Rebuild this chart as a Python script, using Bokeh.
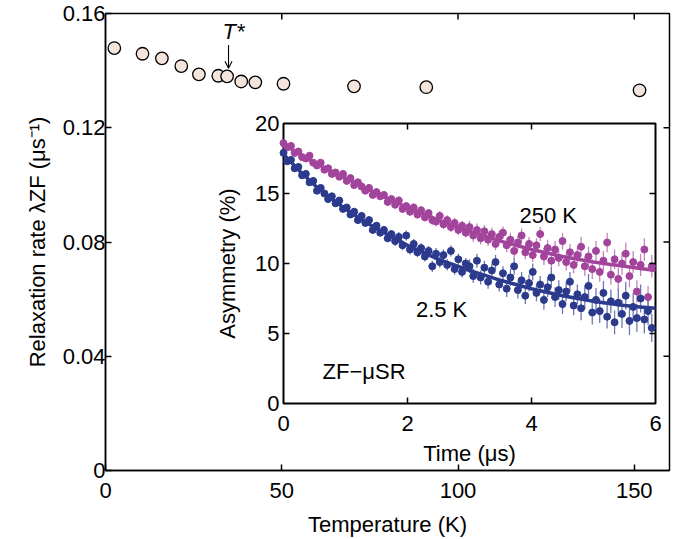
from bokeh.plotting import figure
from bokeh.models import Range1d, Arrow, OpenHead, ColumnDataSource, FixedTicker
from bokeh.core.properties import value
from bokeh.embed import file_html
from bokeh.resources import INLINE

# ---------------- data ----------------
# main panel: zero-field relaxation rate vs temperature
TEMP_K = [2.5, 10.5, 16.0, 21.5, 26.5, 32.0, 34.5, 38.5, 42.5, 50.5, 70.5, 91.0, 151.5]
LAMBDA_ZF = [0.1479, 0.1459, 0.1443, 0.1416, 0.1387, 0.1382, 0.1380, 0.1362, 0.1359,
             0.1354, 0.1345, 0.1342, 0.1331]
X_TICKS = [0, 50, 100, 150]
Y_TICKS = [0, 0.04, 0.08, 0.12, 0.16]
Y_TICK_LABELS = ["0", "0.04", "0.08", "0.12", "0.16"]

# inset: ZF-muSR asymmetry spectra
TIME_US = [0.00, 0.06, 0.12, 0.18, 0.24, 0.30, 0.36, 0.42, 0.48, 0.54,
           0.60, 0.66, 0.72, 0.78, 0.84, 0.90, 0.96, 1.02, 1.08, 1.14,
           1.20, 1.26, 1.32, 1.38, 1.44, 1.50, 1.56, 1.62, 1.68, 1.74,
           1.80, 1.86, 1.92, 1.98, 2.04, 2.10, 2.16, 2.22, 2.28, 2.34,
           2.40, 2.46, 2.52, 2.58, 2.64, 2.70, 2.76, 2.82, 2.88, 2.94,
           3.00, 3.06, 3.12, 3.18, 3.24, 3.30, 3.36, 3.42, 3.48, 3.54,
           3.60, 3.66, 3.72, 3.78, 3.84, 3.90, 3.96, 4.02, 4.08, 4.14,
           4.20, 4.26, 4.32, 4.38, 4.44, 4.50, 4.56, 4.62, 4.68, 4.74,
           4.80, 4.86, 4.92, 4.98, 5.04, 5.10, 5.16, 5.22, 5.28, 5.34,
           5.40, 5.46, 5.52, 5.58, 5.64, 5.70, 5.76, 5.82, 5.88, 5.94]
ASYM_250K = [18.6, 18.3, 18.4, 17.9, 18.0, 17.6, 17.5, 17.7, 17.2, 17.0,
             17.2, 16.7, 16.8, 16.4, 16.5, 16.2, 16.4, 15.9, 16.1, 15.6,
             15.8, 15.5, 15.2, 15.4, 14.9, 15.1, 14.8, 14.9, 14.4, 14.6,
             14.2, 14.5, 13.9, 14.1, 13.7, 14.0, 13.5, 13.8, 13.3, 13.6,
             13.1, 13.0, 13.4, 12.8, 13.1, 12.6, 12.9, 12.4, 12.7, 12.2,
             12.6, 12.0, 12.4, 11.8, 12.3, 11.7, 12.1, 11.4, 11.9, 12.2,
             11.3, 11.7, 10.9, 11.5, 12.0, 10.8, 11.4, 10.6, 11.3, 12.1,
             10.5, 11.1, 10.2, 11.0, 10.4, 11.6, 10.1, 10.8, 9.9, 10.6,
             11.2, 9.8, 10.5, 9.6, 10.9, 9.4, 10.2, 11.5, 9.2, 10.3,
             8.9, 10.0, 10.7, 9.1, 10.1, 8.0, 9.9, 11.0, 7.6, 9.8]
ERR_250K = [0.15, 0.15, 0.15, 0.15, 0.15, 0.15, 0.15, 0.15, 0.15, 0.15,
            0.2, 0.2, 0.2, 0.2, 0.2, 0.2, 0.2, 0.2, 0.2, 0.2,
            0.25, 0.25, 0.25, 0.25, 0.25, 0.25, 0.25, 0.25, 0.25, 0.25,
            0.3, 0.3, 0.3, 0.3, 0.3, 0.3, 0.3, 0.3, 0.3, 0.3,
            0.35, 0.35, 0.35, 0.35, 0.35, 0.35, 0.35, 0.35, 0.35, 0.35,
            0.45, 0.45, 0.45, 0.45, 0.45, 0.45, 0.45, 0.45, 0.45, 0.45,
            0.5, 0.5, 0.5, 0.5, 0.5, 0.5, 0.5, 0.5, 0.5, 0.5,
            0.6, 0.6, 0.6, 0.6, 0.6, 0.6, 0.6, 0.6, 0.6, 0.6,
            0.7, 0.7, 0.7, 0.7, 0.7, 0.7, 0.7, 0.7, 0.7, 0.7,
            0.8, 0.8, 0.8, 0.8, 0.8, 0.8, 0.8, 0.8, 0.8, 0.8]
ASYM_2P5K = [17.9, 17.3, 17.4, 16.8, 16.9, 16.3, 16.4, 15.8, 15.9, 15.2,
             15.4, 15.0, 14.6, 14.8, 14.3, 14.5, 13.9, 14.0, 13.5, 13.7,
             13.1, 13.4, 12.9, 13.1, 12.4, 12.7, 12.2, 12.4, 11.8, 12.1,
             11.6, 11.9, 11.3, 12.0, 11.0, 11.4, 10.8, 11.1, 10.5, 10.9,
             9.8, 10.7, 10.1, 10.6, 9.9, 10.9, 9.6, 10.3, 9.4, 10.0,
             9.8, 9.1, 10.2, 9.0, 9.7, 8.7, 9.5, 10.1, 8.5, 9.3,
             8.2, 9.0, 9.8, 8.1, 8.8, 7.7, 8.6, 9.4, 7.9, 8.5,
             7.4, 8.3, 9.0, 7.6, 8.1, 7.1, 8.0, 8.7, 7.0, 7.8,
             6.8, 7.6, 8.4, 6.5, 7.4, 6.6, 7.9, 6.2, 7.3, 5.8,
             7.2, 6.4, 7.7, 5.9, 6.9, 6.1, 7.5, 6.0, 6.6, 5.4]
ERR_2P5K = [0.15, 0.15, 0.15, 0.15, 0.15, 0.15, 0.15, 0.15, 0.15, 0.15,
            0.2, 0.2, 0.2, 0.2, 0.2, 0.2, 0.2, 0.2, 0.2, 0.2,
            0.25, 0.25, 0.25, 0.25, 0.25, 0.25, 0.25, 0.25, 0.25, 0.25,
            0.35, 0.35, 0.35, 0.35, 0.35, 0.35, 0.35, 0.35, 0.35, 0.35,
            0.4, 0.4, 0.4, 0.4, 0.4, 0.4, 0.4, 0.4, 0.4, 0.4,
            0.5, 0.5, 0.5, 0.5, 0.5, 0.5, 0.5, 0.5, 0.5, 0.5,
            0.6, 0.6, 0.6, 0.6, 0.6, 0.6, 0.6, 0.6, 0.6, 0.6,
            0.7, 0.7, 0.7, 0.7, 0.7, 0.7, 0.7, 0.7, 0.7, 0.7,
            0.85, 0.85, 0.85, 0.85, 0.85, 0.85, 0.85, 0.85, 0.85, 0.85,
            1.0, 1.0, 1.0, 1.0, 1.0, 1.0, 1.0, 1.0, 1.0, 1.0]
FIT_TIME = [0.0, 0.25, 0.5, 0.75, 1.0, 1.25, 1.5, 1.75, 2.0, 2.25, 2.5, 2.75, 3.0,
            3.25, 3.5, 3.75, 4.0, 4.25, 4.5, 4.75, 5.0, 5.25, 5.5, 5.75, 6.0]
FIT_250K = [18.5, 17.85, 17.2, 16.65, 16.1, 15.55, 15.0, 14.5, 14.0, 13.55, 13.1, 12.7, 12.3,
            11.95, 11.6, 11.3, 11.0, 10.75, 10.5, 10.3, 10.1, 9.95, 9.8, 9.65, 9.5]
FIT_2P5K = [17.8, 16.65, 15.6, 14.7, 13.9, 13.15, 12.5, 11.9, 11.3, 10.8, 10.3, 9.9, 9.5,
            9.15, 8.8, 8.5, 8.2, 7.95, 7.7, 7.5, 7.3, 7.15, 7.0, 6.9, 6.8]
INSET_X_TICKS = [0, 2, 4, 6]
INSET_Y_TICKS = [0, 5, 10, 15, 20]

# ---------------- styles ----------------
FONT = "Liberation Sans"
FS = "22px"
PURPLE = "#a3449c"
PURPLE_ERR = "#c583bf"
BLUE = "#2b3a8c"
BLUE_ERR = "#6c78b4"
PEACH = "#f3e4dc"

FW, FH = 564, 457
X0, X1 = 0, 160
Y0, Y1 = 0, 0.16

# inset box placement inside main frame (pixels from frame left / bottom)
IN_L, IN_R, IN_B, IN_T = 178, 550, 67, 347
t_per_px = 6.0 / (IN_R - IN_L)
a_per_px = 20.0 / (IN_T - IN_B)
t_start = -IN_L * t_per_px
a_start = -IN_B * a_per_px

p = figure(frame_width=FW, frame_height=FH,
           x_range=Range1d(X0, X1), y_range=Range1d(Y0, Y1),
           output_backend="svg", toolbar_location=None,
           min_border_left=105, min_border_right=6, min_border_top=13, min_border_bottom=60,
           background_fill_color="white", border_fill_color="white")
p.grid.visible = False
p.outline_line_color = "black"
p.outline_line_width = 1.5

p.extra_x_ranges = {"t": Range1d(t_start, t_start + FW * t_per_px)}
p.extra_y_ranges = {"a": Range1d(a_start, a_start + FH * a_per_px)}

for ax in list(p.xaxis) + list(p.yaxis):
    ax.major_tick_in = 6
    ax.major_tick_out = 0
    ax.minor_tick_in = 0
    ax.minor_tick_out = 0
    ax.axis_line_width = 1.5
    ax.major_tick_line_width = 1.5
    ax.major_label_text_font = FONT
    ax.major_label_text_font_size = FS
    ax.major_label_text_color = "black"
    ax.axis_label_text_font = FONT
    ax.axis_label_text_font_size = FS
    ax.axis_label_text_font_style = "normal"
    ax.axis_label_text_color = "black"

p.xaxis.ticker = FixedTicker(ticks=X_TICKS)
p.yaxis.ticker = FixedTicker(ticks=Y_TICKS)
p.yaxis.major_label_overrides = {v: s for v, s in zip(Y_TICKS, Y_TICK_LABELS)}
p.xaxis.axis_label = "Temperature (K)"
p.yaxis.axis_label = "Relaxation rate λZF (μs⁻¹)"
p.xaxis.major_label_standoff = 12
p.xaxis.axis_label_standoff = 11
p.yaxis.major_label_standoff = 0
p.yaxis.axis_label_standoff = 10

# mirrored ticks on top and right of main frame
tlx = 6 * (X1 - X0) / FW
tly = 6 * (Y1 - Y0) / FH
top_t = [t for t in X_TICKS if X0 < t < X1]
right_t = [t for t in Y_TICKS if Y0 < t < Y1]
p.segment(x0=top_t, y0=[Y1] * len(top_t), x1=top_t, y1=[Y1 - tly] * len(top_t),
          line_color="black", line_width=1.5)
p.segment(x0=[X1] * len(right_t), y0=right_t, x1=[X1 - tlx] * len(right_t), y1=right_t,
          line_color="black", line_width=1.5)

# main data
p.scatter(TEMP_K, LAMBDA_ZF, size=12.5, fill_color=PEACH, line_color="black", line_width=1.3)

# T* annotation
p.text(x=[36.3], y=[0.1537], text=["T*"], text_font=value(FONT), text_font_size=value(FS),
       text_font_style="italic", text_align="center", text_baseline="middle", text_color="black")
p.add_layout(Arrow(end=OpenHead(size=7, line_width=1.1, line_color="black"),
                   x_start=34.9, y_start=0.1490, x_end=34.9, y_end=0.1408,
                   line_width=1.1, line_color="black"))

# ---------------- inset ----------------
R = dict(x_range_name="t", y_range_name="a")
p.quad(left=[0], right=[6], bottom=[0], top=[20], fill_color="white",
       line_color="black", line_width=2, **R)

src250 = ColumnDataSource(dict(t=TIME_US, y=ASYM_250K,
                               lo=[y - e for y, e in zip(ASYM_250K, ERR_250K)],
                               hi=[y + e for y, e in zip(ASYM_250K, ERR_250K)]))
src2 = ColumnDataSource(dict(t=TIME_US, y=ASYM_2P5K,
                             lo=[y - e for y, e in zip(ASYM_2P5K, ERR_2P5K)],
                             hi=[y + e for y, e in zip(ASYM_2P5K, ERR_2P5K)]))

p.segment(x0="t", y0="lo", x1="t", y1="hi", source=src250, line_color=PURPLE_ERR,
          line_width=1.3, **R)
p.segment(x0="t", y0="lo", x1="t", y1="hi", source=src2, line_color=BLUE_ERR,
          line_width=1.3, **R)
p.scatter(x="t", y="y", source=src250, size=7, fill_color=PURPLE, line_color=PURPLE, **R)
p.scatter(x="t", y="y", source=src2, size=7, fill_color=BLUE, line_color=BLUE, **R)
p.line(FIT_TIME, FIT_250K, line_color=PURPLE, line_width=3.5, **R)
p.line(FIT_TIME, FIT_2P5K, line_color=BLUE, line_width=3.5, **R)

# inset ticks (inward, all four sides)
itx = 6 * t_per_px
ity = 6 * a_per_px
xt = [t for t in INSET_X_TICKS if 0 < t < 6]
yt = [a for a in INSET_Y_TICKS if 0 < a < 20]
p.segment(x0=xt, y0=[0] * len(xt), x1=xt, y1=[ity] * len(xt), line_color="black", line_width=1.5, **R)
p.segment(x0=xt, y0=[20] * len(xt), x1=xt, y1=[20 - ity] * len(xt), line_color="black", line_width=1.5, **R)
p.segment(x0=[0] * len(yt), y0=yt, x1=[itx] * len(yt), y1=yt, line_color="black", line_width=1.5, **R)
p.segment(x0=[6] * len(yt), y0=yt, x1=[6 - itx] * len(yt), y1=yt, line_color="black", line_width=1.5, **R)

txt = dict(text_font=value(FONT), text_font_size=value(FS), text_color="black")
p.text(x=INSET_X_TICKS, y=[0] * len(INSET_X_TICKS), text=[str(v) for v in INSET_X_TICKS],
       text_align="center", text_baseline="middle", y_offset=20, **txt, **R)
p.text(x=[0] * len(INSET_Y_TICKS), y=INSET_Y_TICKS, text=[str(v) for v in INSET_Y_TICKS],
       text_align="right", text_baseline="middle", x_offset=-4, **txt, **R)
p.text(x=[3.0], y=[0], text=["Time (μs)"], text_align="center", text_baseline="middle",
       y_offset=50, **txt, **R)
p.text(x=[0], y=[10], text=["Asymmetry (%)"], text_align="center", text_baseline="middle",
       angle=1.5708, x_offset=-56, **txt, **R)
p.text(x=[4.27], y=[13.4], text=["250 K"], text_align="center", text_baseline="middle", **txt, **R)
p.text(x=[2.55], y=[6.7], text=["2.5 K"], text_align="center", text_baseline="middle", **txt, **R)
p.text(x=[1.3], y=[2.3], text=["ZF−μSR"], text_align="center", text_baseline="middle", **txt, **R)

open("out.html", "w").write(file_html(p, INLINE))
